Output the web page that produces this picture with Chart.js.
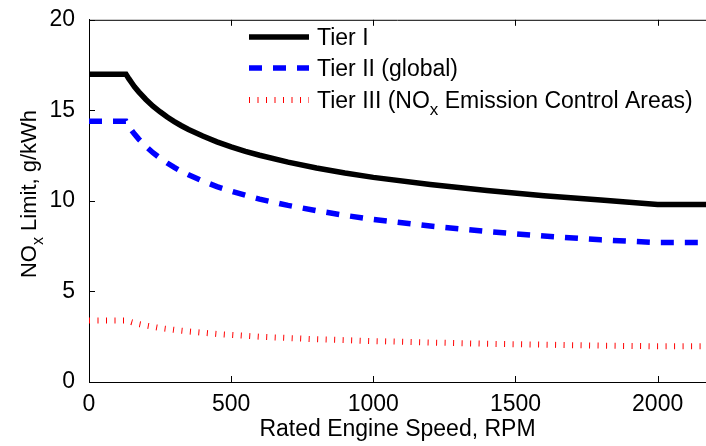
<!DOCTYPE html>
<html>
<head>
<meta charset="utf-8">
<script src="https://cdn.jsdelivr.net/npm/chart.js@4.4.1/dist/chart.umd.min.js"></script>
<style>
  html, body { margin: 0; padding: 0; background: #fff; }
  #wrap { width: 706px; height: 446px; position: relative; }
</style>
</head>
<body>
<div id="wrap"><canvas id="noxChart"></canvas></div>
<script>
// values
const rpm   = [0, 130, 140, 150, 160, 175, 200, 225, 250, 275, 300, 325, 350, 400, 450, 500, 550, 600, 700, 800, 900, 1000, 1200, 1400, 1600, 1800, 2000, 2170];
const tier1 = [17, 17, 16.75, 16.52, 16.3, 16.02, 15.6, 15.23, 14.92, 14.63, 14.38, 14.15, 13.94, 13.58, 13.26, 12.98, 12.74, 12.52, 12.14, 11.82, 11.54, 11.3, 10.9, 10.57, 10.29, 10.05, 9.8, 9.8];
const tier2 = [14.4, 14.4, 14.12, 13.9, 13.69, 13.41, 13.01, 12.66, 12.36, 12.09, 11.85, 11.63, 11.44, 11.09, 10.79, 10.54, 10.31, 10.1, 9.75, 9.46, 9.2, 8.98, 8.61, 8.31, 8.06, 7.85, 7.7, 7.7];
const tier3 = [3.4, 3.4, 3.35, 3.3, 3.26, 3.2, 3.12, 3.05, 2.98, 2.93, 2.88, 2.83, 2.79, 2.72, 2.65, 2.6, 2.55, 2.5, 2.43, 2.36, 2.31, 2.26, 2.18, 2.11, 2.06, 2.01, 1.97, 1.97];

const xTicks = [0, 500, 1000, 1500, 2000];
const yTicks = [0, 5, 10, 15, 20];

// label pieces: [text, isSubscript]
const seriesNames = [
    [['Tier I', false]],
    [['Tier II (global)', false]],
    [['Tier III (NO', false], ['x', true], [' Emission Control Areas)', false]]
];
const yTitle = [['NO', false], ['x', true], [' Limit, g/kWh', false]];
const xTitle = 'Rated Engine Speed, RPM';

const FONT = '"Liberation Sans", Arial, Helvetica, sans-serif';
const FS = 23;

function pts(ys) {
    return rpm.map((x, i) => ({ x: x, y: ys[i] }));
}

// text made of normal and subscript pieces, left aligned at baseline (x, y)
function drawPieces(c, pieces, x, y, size) {
    let cx = x;
    pieces.forEach(([t, sub]) => {
        c.font = (sub ? Math.round(size * 0.72) : size) + 'px ' + FONT;
        c.fillText(t, cx, sub ? y + size * 0.32 : y);
        cx += c.measureText(t).width;
    });
    return cx - x;
}
function piecesWidth(c, pieces, size) {
    let w = 0;
    pieces.forEach(([t, sub]) => {
        c.font = (sub ? Math.round(size * 0.72) : size) + 'px ' + FONT;
        w += c.measureText(t).width;
    });
    return w;
}

const extras = {
    id: 'extras',
    afterDraw(chart) {
        const c = chart.ctx;
        const a = chart.chartArea;
        const xs = chart.scales.x, ys = chart.scales.y;
        c.save();
        c.strokeStyle = '#000';
        c.lineWidth = 1;
        c.beginPath();
        // top edge of the box
        c.moveTo(a.left, a.top + 0.5);
        c.lineTo(a.right, a.top + 0.5);
        // inward ticks
        xTicks.forEach(v => {
            const p = Math.round(xs.getPixelForValue(v)) + 0.5;
            c.moveTo(p, a.bottom); c.lineTo(p, a.bottom - 6);
            c.moveTo(p, a.top); c.lineTo(p, a.top + 6);
        });
        yTicks.forEach(v => {
            const p = Math.round(ys.getPixelForValue(v)) + 0.5;
            c.moveTo(a.left, p); c.lineTo(a.left + 6, p);
        });
        c.stroke();

        c.fillStyle = '#000';
        c.textBaseline = 'alphabetic';
        // x title
        c.font = FS + 'px ' + FONT;
        c.textAlign = 'center';
        c.fillText(xTitle, (a.left + a.right) / 2, 436);
        // y title, rotated
        c.textAlign = 'left';
        c.save();
        c.translate(36, 194);
        c.rotate(-Math.PI / 2);
        const w = piecesWidth(c, yTitle, 22);
        drawPieces(c, yTitle, -w / 2, 0, 22);
        c.restore();

        // legend
        const rows = [37, 68, 100];
        chart.data.datasets.forEach((ds, i) => {
            const y = rows[i];
            c.save();
            c.strokeStyle = ds.borderColor;
            c.lineWidth = ds.borderWidth;
            c.setLineDash(ds.borderDash || []);
            c.beginPath();
            c.moveTo(249, y); c.lineTo(309, y);
            c.stroke();
            c.restore();
            c.fillStyle = '#000';
            drawPieces(c, seriesNames[i], 317, y + 8, FS);
        });
        c.restore();
    }
};

new Chart(document.getElementById('noxChart'), {
    type: 'line',
    data: {
        datasets: [
            { label: 'Tier I', data: pts(tier1), borderColor: '#000000', borderWidth: 5.5 },
            { label: 'Tier II (global)', data: pts(tier2), borderColor: '#0000ff', borderWidth: 5.5, borderDash: [13, 11] },
            { label: 'Tier III', data: pts(tier3), borderColor: '#ff0000', borderWidth: 6, borderDash: [1, 7.5] }
        ]
    },
    options: {
        responsive: true,
        maintainAspectRatio: false,
        animation: false,
        layout: { padding: { top: 13, right: 0, left: 0, bottom: 0 } },
        elements: {
            point: { radius: 0 },
            line: { tension: 0, fill: false, borderCapStyle: 'butt' }
        },
        plugins: { legend: { display: false }, tooltip: { enabled: false } },
        scales: {
            x: {
                type: 'linear',
                min: 0, max: 2170,
                afterBuildTicks: s => { s.ticks = xTicks.map(v => ({ value: v })); },
                afterFit: s => { s.height = 64; },
                grid: { display: false },
                border: { display: true, color: '#000', width: 1 },
                ticks: { color: '#000', font: { family: FONT, size: FS }, padding: 1, maxRotation: 0, callback: v => String(v) }
            },
            y: {
                min: 0, max: 20,
                afterBuildTicks: s => { s.ticks = yTicks.map(v => ({ value: v })); },
                afterFit: s => { s.width = 89; },
                grid: { display: false },
                border: { display: true, color: '#000', width: 1 },
                ticks: { color: '#000', font: { family: FONT, size: FS }, padding: 6, callback: v => String(v) }
            }
        }
    },
    plugins: [extras]
});
</script>
</body>
</html>
